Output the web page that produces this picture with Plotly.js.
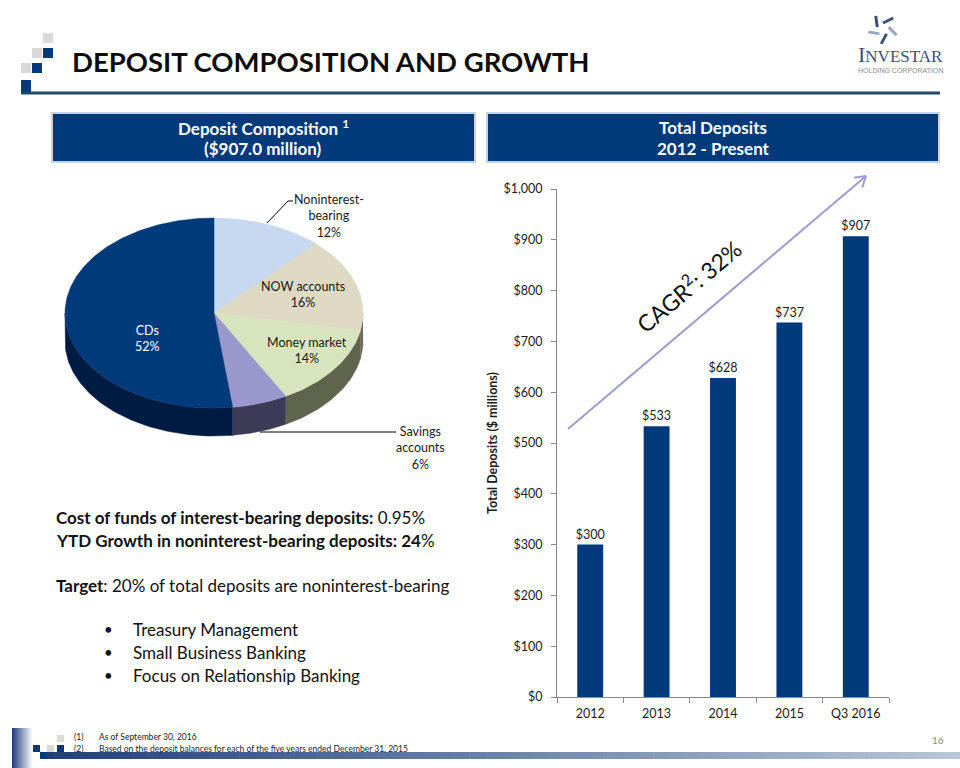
<!DOCTYPE html>
<html>
<head>
<meta charset="utf-8">
<script src="https://cdn.plot.ly/plotly-3.0.1.min.js"></script>
<style>html,body{margin:0;padding:0;background:#fff}#chart{width:960px;height:768px}</style>
</head>
<body>
<div id="chart"></div>
<script>
// ---------------- DATA ----------------
const years = ['2012', '2013', '2014', '2015', 'Q3 2016'];
const totalDeposits = [300, 533, 628, 737, 907];
const pieCategories = ['Noninterest-bearing', 'NOW accounts', 'Money market', 'Savings accounts', 'CDs'];
const pieShares = [12, 16, 14, 6, 52];
const cagrPct = 32;
const compositionTotal = '907.0';
const footnotes = ['As of September 30, 2016', 'Based on the deposit balances for each of the five years ended December 31, 2015'];
const bullets = ['Treasury Management', 'Small Business Banking', 'Focus on Relationship Banking'];

// ---------------- HELPERS ----------------
const W = 960, H = 768;
const PX = x => x / W, PY = y => 1 - y / H;
const FONT = 'Lato, "Open Sans", sans-serif';
const NAVY = '#003a7a';

const shapes = [];
const annotations = [];
function rect(x0, y0, x1, y1, fill, line) {
  shapes.push({type: 'rect', xref: 'paper', yref: 'paper', x0: PX(x0), x1: PX(x1), y0: PY(y1), y1: PY(y0),
    fillcolor: fill, line: line || {width: 0}, layer: 'below'});
}
function seg(x0, y0, x1, y1, color, width) {
  shapes.push({type: 'line', xref: 'paper', yref: 'paper', x0: PX(x0), x1: PX(x1), y0: PY(y0), y1: PY(y1),
    line: {color: color, width: width}});
}
function text(x, y, t, size, opts) {
  opts = opts || {};
  annotations.push(Object.assign({xref: 'paper', yref: 'paper', x: PX(x), y: PY(y), text: t, showarrow: false,
    xanchor: 'center', yanchor: 'middle'}, opts,
    {font: Object.assign({family: FONT, size: size, color: '#111'}, opts.font || {})}));
}
function lerpColor(a, b, t) {
  const pa = a.match(/\w\w/g).map(h => parseInt(h, 16)), pb = b.match(/\w\w/g).map(h => parseInt(h, 16));
  return 'rgb(' + pa.map((v, i) => Math.round(v + (pb[i] - v) * t)).join(',') + ')';
}

// ---------------- HEADER DECOR ----------------
const GRAY = '#d9d9d9';
[[43,33,GRAY],[43,48,NAVY],[32,48,GRAY],[32,63,NAVY],[21,63,GRAY],[21,80,NAVY]].forEach(s => rect(s[0], s[1], s[0]+10, s[1]+(s[1]===80?13:10), s[2]));
seg(21, 93, 940, 93, '#1f4a68', 3);
text(70, 61, '<b>DEPOSIT COMPOSITION AND GROWTH</b>', 27.5, {xanchor: 'left', font: {color: '#0d0d0d'}});

// logo
const lc = [883, 29];
for (let k = 0; k < 5; k++) {
  const a = -Math.PI / 2 + k * 2 * Math.PI / 5;
  const r1 = 6, r2 = 15;
  const sx = lc[0] + r1 * Math.cos(a), sy = lc[1] + r1 * Math.sin(a);
  const ex = lc[0] + r2 * Math.cos(a + 0.75), ey = lc[1] + r2 * Math.sin(a + 0.75);
  seg(sx, sy, ex, ey, k % 2 ? '#9aa6bd' : '#3b4f7a', 3);
}
text(900, 54, '<span style="font-size:22px">I</span>NVESTAR', 17, {font: {family: '"Liberation Serif", serif', color: '#3b4f7a'}});
text(900, 70, 'HOLDING CORPORATION', 7, {font: {family: '"Liberation Sans", sans-serif', color: '#8c8c8c'}});

// section boxes
rect(52, 113, 475, 162, NAVY, {color: '#c8d1de', width: 2});
rect(487, 113, 939, 162, NAVY, {color: '#c8d1de', width: 2});
text(263, 127, '<b>Deposit Composition <sup>1</sup></b>', 17, {font: {color: '#fff'}});
text(263, 148, '<b>($' + compositionTotal + ' million)</b>', 17, {font: {color: '#fff'}});
text(713, 127, '<b>Total Deposits</b>', 17, {font: {color: '#fff'}});
text(713, 148, '<b>' + years[0] + ' - Present</b>', 17, {font: {color: '#fff'}});

// ---------------- 3D-LOOK PIE (computed from pieShares) ----------------
const cx = 214, cy = 313, rx = 149, ry = 95, depthPx = 28;
const depth = depthPx / ry;
const topColors = ['#c6d9f1', '#ddd9c3', '#d7e4bd', '#9a97cc', '#003a7a'];
const sideColors = ['#5c6a80', '#6b6756', '#5f644c', '#3d3a56', '#001b42'];
const totalShare = pieShares.reduce((a, b) => a + b, 0);
const traces = [];
let acc = 0;
const slices = pieShares.map(v => { const a0 = acc / totalShare * 2 * Math.PI; acc += v; return [a0, acc / totalShare * 2 * Math.PI]; });
function arc(a0, a1, dy) {
  const xs = [], ys = [];
  const n = Math.max(2, Math.ceil((a1 - a0) / (Math.PI / 180)));
  for (let i = 0; i <= n; i++) { const t = a0 + (a1 - a0) * i / n; xs.push(Math.sin(t)); ys.push(Math.cos(t) + dy); }
  return [xs, ys];
}
// sides (front half only: angles PI/2 .. 3PI/2)
slices.forEach((s, i) => {
  const a0 = Math.max(s[0], Math.PI / 2), a1 = Math.min(s[1], 3 * Math.PI / 2);
  if (a1 <= a0) return;
  const [tx, ty] = arc(a0, a1, 0), [bx, by] = arc(a0, a1, -depth);
  traces.push({type: 'scatter', xaxis: 'x2', yaxis: 'y2', mode: 'lines', fill: 'toself', fillcolor: sideColors[i],
    line: {color: sideColors[i], width: 0.5}, x: tx.concat(bx.reverse()), y: ty.concat(by.reverse()),
    hoverinfo: 'skip', showlegend: false});
});
// top faces
slices.forEach((s, i) => {
  const [tx, ty] = arc(s[0], s[1], 0);
  traces.push({type: 'scatter', xaxis: 'x2', yaxis: 'y2', mode: 'lines', fill: 'toself', fillcolor: topColors[i],
    line: {color: topColors[i], width: 0.5}, x: [0].concat(tx, [0]), y: [0].concat(ty, [0]),
    name: pieCategories[i], text: pieCategories[i] + ': ' + pieShares[i] + '%', hoverinfo: 'text', showlegend: false});
});
// pie labels
const brk = s => s.replace('Noninterest-', 'Noninterest-<br>').replace('Savings ', 'Savings<br>');
const labelPos = [[329, 216], [303, 295], [307, 350], [420, 448], [147, 338]];
pieCategories.forEach((c, i) => {
  text(labelPos[i][0], labelPos[i][1], brk(c) + '<br>' + pieShares[i] + '%', 12.5,
    {font: {color: i === 4 ? '#ffffff' : '#1a1a1a'}});
});
seg(267, 223, 288, 201, '#000', 1); seg(288, 201, 293, 201, '#000', 1);
seg(260, 432, 396, 432, '#000', 1);

// ---------------- TEXT BLOCK ----------------
text(54, 517, '<b>Cost of funds of interest-bearing deposits:</b> 0.95%', 17, {xanchor: 'left'});
text(54, 540, '<b>YTD Growth in noninterest-bearing deposits: 24</b>%', 17, {xanchor: 'left'});
text(54, 585, '<b>Target</b>: 20% of total deposits are noninterest-bearing', 17, {xanchor: 'left'});
bullets.forEach((b, i) => {
  text(108, 629 + i * 23, '•', 15);
  text(131, 629 + i * 23, b, 17, {xanchor: 'left'});
});

// ---------------- BAR CHART ----------------
traces.push({type: 'bar', x: years, y: totalDeposits, marker: {color: NAVY}, width: 0.39,
  texttemplate: '%{y}', textposition: 'outside', cliponaxis: false, constraintext: 'none',
  textfont: {family: FONT, size: 12.5, color: '#1a1a1a'}, hoverinfo: 'x+y', showlegend: false});

// CAGR arrow
const tail = [568, 429], tip = [866, 176];
seg(tail[0], tail[1], tip[0], tip[1], '#9f9bd1', 2);
(function () {
  const dx = tip[0] - tail[0], dy = tip[1] - tail[1], L = Math.hypot(dx, dy);
  const ux = -dx / L, uy = -dy / L;
  [0.55, -0.55].forEach(a => {
    const hx = ux * Math.cos(a) - uy * Math.sin(a), hy = ux * Math.sin(a) + uy * Math.cos(a);
    seg(tip[0], tip[1], tip[0] + hx * 12, tip[1] + hy * 12, '#9f9bd1', 2);
  });
})();
text(688, 285, 'CAGR<sup>2</sup>: ' + cagrPct + '%', 23, {textangle: -40, font: {color: '#111'}});

// ---------------- FOOTER ----------------
for (let k = 0; k < 21; k++) {
  const x0 = 12 + k; rect(x0, 728, x0 + 1.2, 768, lerpColor('1f3f7a', 'ffffff', k / 20));
}
const segN = 60;
for (let k = 0; k < segN; k++) {
  const x0 = 40 + k * (920 / segN);
  rect(x0, 752, x0 + 920 / segN + 0.5, 759, lerpColor('1f3f7a', 'b9c6d8', k / (segN - 1)));
}
[[57,735,GRAY],[33,745,NAVY],[47,745,GRAY],[57,745,NAVY],[40,752,NAVY]].forEach(s => rect(s[0], s[1], s[0]+7, s[1]+7, s[2]));
footnotes.forEach((f, i) => {
  text(72, 737 + i * 12, '(' + (i + 1) + ')', 8.5, {xanchor: 'left', font: {color: '#222'}});
  text(97, 737 + i * 12, f, 8.5, {xanchor: 'left', font: {color: '#222'}});
});
text(938, 740, '16', 10, {font: {color: '#8c8c8c'}});

// ---------------- LAYOUT ----------------
const layout = {
  width: W, height: H, margin: {l: 0, r: 0, t: 0, b: 0}, paper_bgcolor: '#fff', plot_bgcolor: 'rgba(0,0,0,0)',
  showlegend: false, font: {family: FONT, color: '#1a1a1a'},
  xaxis: {domain: [PX(557), PX(889)], type: 'category', showline: true, linecolor: '#878787', linewidth: 1,
    ticks: 'outside', tickson: 'boundaries', ticklen: 5, tickcolor: '#878787', showgrid: false, zeroline: false,
    ticklabelstandoff: 5, tickfont: {family: FONT, size: 12.5, color: '#1a1a1a'}, fixedrange: true},
  yaxis: {domain: [PY(697), PY(189)], range: [0, 1000], dtick: 100, tickprefix: '$', tickformat: ',d',
    showline: true, linecolor: '#878787', linewidth: 1, ticks: 'outside', ticklen: 5, tickcolor: '#878787',
    ticklabelstandoff: 6, showgrid: false, zeroline: false, automargin: false, fixedrange: true,
    tickfont: {family: FONT, size: 12.5, color: '#1a1a1a'},
    title: {text: '<b>Total Deposits ($ millions)</b>', standoff: 3, font: {family: FONT, size: 12.5, color: '#1a1a1a'}}},
  xaxis2: {domain: [PX(40), PX(480)], range: [(40 - cx) / rx, (480 - cx) / rx], visible: false, fixedrange: true},
  yaxis2: {domain: [PY(480), PY(180)], range: [(cy - 480) / ry, (cy - 180) / ry], visible: false, fixedrange: true},
  shapes: shapes, annotations: annotations
};
Plotly.newPlot('chart', traces, layout, {displayModeBar: false});
</script>
</body>
</html>
